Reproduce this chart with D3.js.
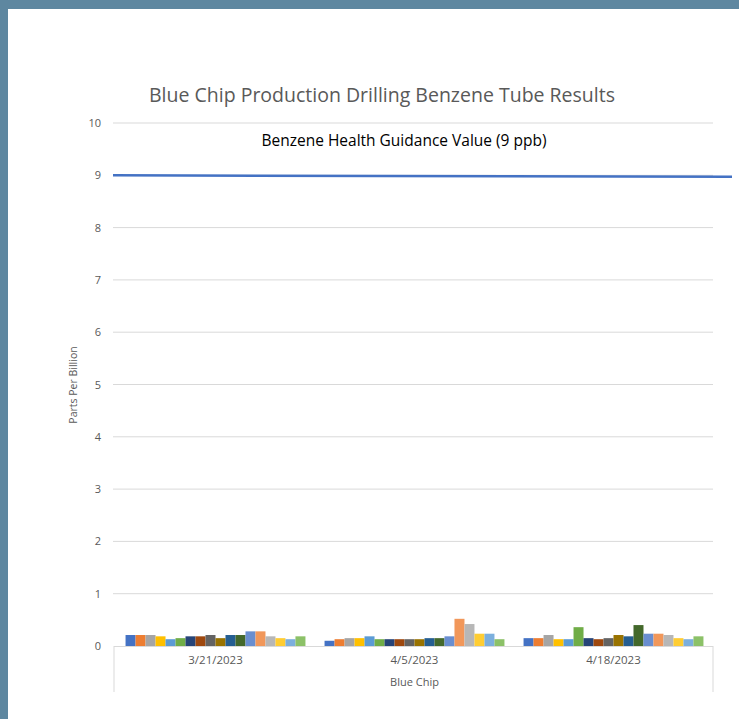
<!DOCTYPE html>
<html>
<head>
<meta charset="utf-8">
<script src="https://cdn.jsdelivr.net/npm/d3@7"></script>
<style>
  body { margin: 0; background: #5e87a0; }
  #vis { position: absolute; left: 8px; top: 9px; width: 731px; height: 710px; background: #fff; }
  text { font-family: "Open Sans", "Noto Sans", sans-serif; }
</style>
</head>
<body>
<div id="vis"></div>
<script>
// data
const dates = ['3/21/2023', '4/5/2023', '4/18/2023']
const tubes = d3.range(1, 19).map(i => 'Tube ' + i)
const values = [
    [0.21, 0.21, 0.21, 0.185, 0.13, 0.15, 0.185, 0.185, 0.21, 0.15, 0.21, 0.21, 0.28, 0.28, 0.185, 0.15, 0.13, 0.185],
    [0.10, 0.13, 0.15, 0.15, 0.185, 0.13, 0.13, 0.13, 0.13, 0.13, 0.15, 0.15, 0.185, 0.52, 0.42, 0.235, 0.235, 0.13],
    [0.15, 0.15, 0.21, 0.13, 0.13, 0.36, 0.15, 0.13, 0.15, 0.21, 0.185, 0.40, 0.235, 0.235, 0.21, 0.15, 0.13, 0.185]
]
const guidance = 9
const yTicks = d3.range(0, 11)
const colors = ['#4472c4', '#ed7d31', '#a5a5a5', '#ffc000', '#5b9bd5', '#70ad47',
                '#264478', '#9e480e', '#636363', '#997300', '#255e91', '#43682b',
                '#698ed0', '#f1975a', '#b7b7b7', '#ffcd33', '#7cafdd', '#8cc168']

// page coords are offset by the frame (8, 9)
const ox = 8, oy = 9
const plot = {left: 116 - ox, right: 713 - ox, top: 123 - oy, bottom: 646 - oy}

let svg = d3.select('#vis')
    .append('svg')
    .attr('width', 731)
    .attr('height', 710)

let y = d3.scaleLinear([0, 10], [plot.bottom, plot.top])
let x0 = d3.scaleBand(dates, [plot.left, plot.right])
let bw = x0.bandwidth()
let x1 = d3.scaleBand(tubes, [bw * 0.048, bw * 0.952])
let color = d3.scaleOrdinal(tubes, colors)

// gridlines
svg.append('g')
    .selectAll('line')
    .data(yTicks.filter(d => d > 0))
    .enter()
    .append('line')
        .attr('x1', plot.left - 3)
        .attr('x2', plot.right)
        .attr('y1', d => y(d))
        .attr('y2', d => y(d))
        .attr('stroke', '#d9d9d9')
        .attr('stroke-width', 1)

// y tick labels
svg.append('g')
    .selectAll('text')
    .data(yTicks)
    .enter()
    .append('text')
        .attr('x', 101 - ox)
        .attr('y', d => y(d) + 4)
        .attr('text-anchor', 'end')
        .attr('font-size', 11)
        .attr('fill', '#595959')
        .text(d => d)

// bars
svg.append('g')
    .selectAll('g')
    .data(values)
    .enter()
    .append('g')
        .attr('transform', (d, i) => `translate(${x0(dates[i])},0)`)
    .selectAll('rect')
    .data(d => d.map((v, j) => ({tube: tubes[j], value: v})))
    .enter()
    .append('rect')
        .attr('x', d => x1(d.tube))
        .attr('width', x1.bandwidth())
        .attr('y', d => y(d.value))
        .attr('height', d => y(0) - y(d.value))
        .attr('fill', d => color(d.tube))

// category axis box
let axisG = svg.append('g')
    .attr('stroke', '#d9d9d9')
    .attr('fill', 'none')
axisG.append('line')
    .attr('x1', plot.left - 2).attr('x2', plot.right)
    .attr('y1', y(0) + 0.5).attr('y2', y(0) + 0.5)
axisG.append('line')
    .attr('x1', plot.left - 2).attr('x2', plot.left - 2)
    .attr('y1', y(0)).attr('y2', 692 - oy)
axisG.append('line')
    .attr('x1', plot.right).attr('x2', plot.right)
    .attr('y1', y(0)).attr('y2', 692 - oy)

svg.append('g')
    .selectAll('text')
    .data(dates)
    .enter()
    .append('text')
        .attr('x', d => x0(d) + bw / 2)
        .attr('y', 664 - oy)
        .attr('text-anchor', 'middle')
        .attr('font-size', 11.5)
        .attr('fill', '#595959')
        .text(d => d)

svg.append('text')
    .attr('x', (plot.left + plot.right) / 2)
    .attr('y', 686 - oy)
    .attr('text-anchor', 'middle')
    .attr('font-size', 11)
    .attr('fill', '#595959')
    .text('Blue Chip')

// y axis title
svg.append('text')
    .attr('transform', `translate(${77 - ox},${385 - oy}) rotate(-90)`)
    .attr('text-anchor', 'middle')
    .attr('font-size', 10.5)
    .attr('fill', '#595959')
    .text('Parts Per Billion')

// guidance line
svg.append('line')
    .attr('x1', 113 - ox)
    .attr('x2', 732 - ox)
    .attr('y1', y(guidance))
    .attr('y2', y(guidance) + 1.5)
    .attr('stroke', '#4472c4')
    .attr('stroke-width', 2.5)

svg.append('text')
    .attr('x', 404 - ox)
    .attr('y', 146 - oy)
    .attr('text-anchor', 'middle')
    .attr('font-size', 15.5)
    .attr('fill', '#000')
    .text('Benzene Health Guidance Value (9 ppb)')

// title
svg.append('text')
    .attr('x', 382 - ox)
    .attr('y', 102 - oy)
    .attr('text-anchor', 'middle')
    .attr('font-size', 19.5)
    .attr('fill', '#595959')
    .text('Blue Chip Production Drilling Benzene Tube Results')
</script>
</body>
</html>
